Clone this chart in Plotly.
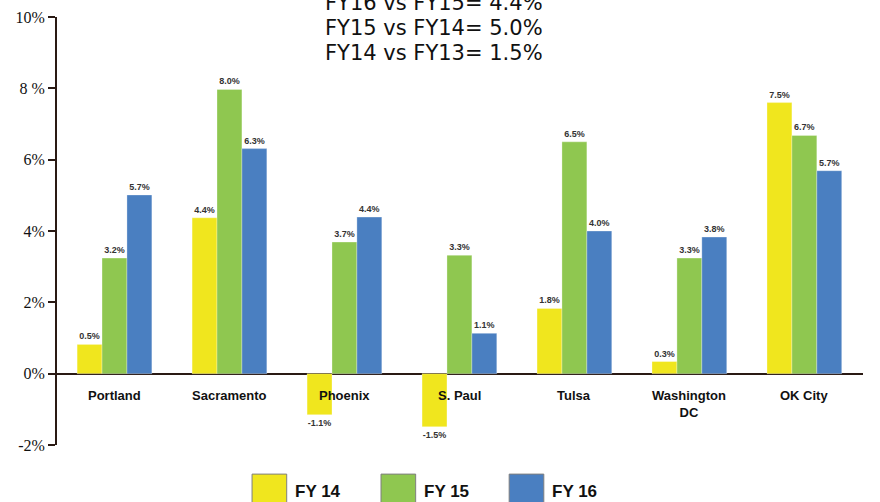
import plotly.graph_objects as go

categories = ["Portland", "Sacramento", "Phoenix", "S. Paul", "Tulsa", "Washington<br>DC", "OK City"]
series_names = ["FY 14", "FY 15", "FY 16"]
fy14 = [0.82, 4.37, -1.15, -1.49, 1.83, 0.34, 7.6]
fy15 = [3.24, 7.97, 3.69, 3.32, 6.5, 3.24, 6.68]
fy16 = [5.01, 6.31, 4.39, 1.13, 4.0, 3.83, 5.69]
fy14_labels = ["0.5%", "4.4%", "-1.1%", "-1.5%", "1.8%", "0.3%", "7.5%"]
fy15_labels = ["3.2%", "8.0%", "3.7%", "3.3%", "6.5%", "3.3%", "6.7%"]
fy16_labels = ["5.7%", "6.3%", "4.4%", "1.1%", "4.0%", "3.8%", "5.7%"]
title_lines = ["FY16 vs FY15= 4.4%", "FY15 vs FY14= 5.0%", "FY14 vs FY13= 1.5%"]
tick_vals = [-2, 0, 2, 4, 6, 8, 10]
tick_text = ["-2%", "0%", "2%", "4%", "6%", "8 %", "10%"]

colors = ["#F0E61E", "#8FC750", "#4A7FC1"]
values = [fy14, fy15, fy16]
labels = [fy14_labels, fy15_labels, fy16_labels]

fig = go.Figure()
xs = list(range(len(categories)))
for name, vals, labs, col in zip(series_names, values, labels, colors):
    fig.add_trace(go.Bar(
        x=xs, y=vals, name=name, text=labs, textposition="outside",
        constraintext="none", cliponaxis=False,
        textfont=dict(family="Liberation Sans, Arial", size=9, color="#333333", weight="bold"),
        marker=dict(color=col, line=dict(color="rgba(255,255,255,0.6)", width=0.5)),
        showlegend=False,
    ))

annotations = []
for i, cat in enumerate(categories):
    annotations.append(dict(
        x=i, y=0, xref="x", yref="y", text="<b>" + cat + "</b>", showarrow=False,
        yanchor="top", yshift=-12,
        font=dict(family="Liberation Sans, Arial", size=13, color="#111111"),
    ))

title_y = [1.032, 0.974, 0.915]
for t, yy in zip(title_lines, title_y):
    annotations.append(dict(
        x=0.468, y=yy, xref="paper", yref="paper", text=t, showarrow=False,
        yanchor="middle", xanchor="center",
        font=dict(family="DejaVu Sans, Arial", size=21, color="#111111"),
    ))

# manual legend
leg_x = [0.242, 0.402, 0.561]
shapes = []
for name, col, lx in zip(series_names, colors, leg_x):
    shapes.append(dict(type="rect", xref="paper", yref="paper",
                       x0=lx, x1=lx + 0.043, y0=-0.14, y1=-0.068,
                       fillcolor=col, line=dict(color="#7f7f7f", width=1)))
    annotations.append(dict(
        x=lx + 0.051, y=-0.108, xref="paper", yref="paper", text="<b>" + name + "</b>",
        showarrow=False, xanchor="left", yanchor="middle",
        font=dict(family="Liberation Sans, Arial", size=17, color="#111111"),
    ))

fig.update_layout(
    width=880, height=502, autosize=False,
    margin=dict(l=57, r=17, t=17, b=57, autoexpand=False),
    paper_bgcolor="white", plot_bgcolor="white",
    barmode="group", bargap=0.35, bargroupgap=0,
    annotations=annotations, shapes=shapes,
    xaxis=dict(range=[-0.5, 6.51], showticklabels=False, showgrid=False,
               zeroline=False, showline=False, ticks="", automargin=False),
    yaxis=dict(range=[-2, 10], tickvals=tick_vals, ticktext=tick_text, automargin=False,
               showgrid=False, zeroline=True, zerolinecolor="#2a1a14", zerolinewidth=2,
               showline=True, linecolor="#2a1a14", linewidth=2,
               ticks="outside", ticklen=7, tickwidth=2, tickcolor="#2a1a14",
               tickfont=dict(family="Liberation Serif, Times New Roman", size=16, color="#111111")),
)

fig.write_html("out.html", config={"displayModeBar": False},
               post_script="document.body.style.margin='0';document.body.style.overflow='hidden';")
